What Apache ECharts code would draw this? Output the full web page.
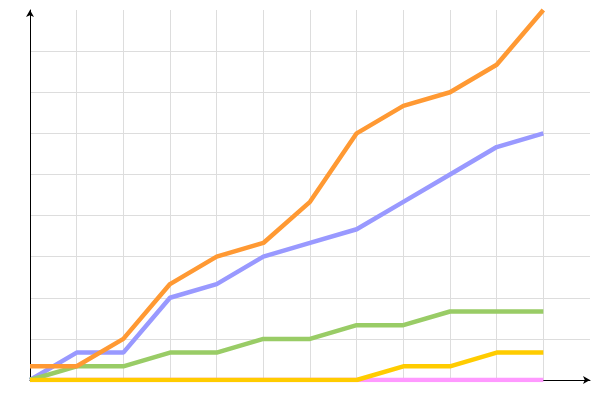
<!DOCTYPE html>
<html>
<head>
<meta charset="utf-8">
<script src="https://cdn.jsdelivr.net/npm/echarts@6/dist/echarts.min.js"></script>
<style>html,body{margin:0;padding:0;background:#fff}#c{width:600px;height:400px}</style>
</head>
<body>
<div id="c"></div>
<script>
const xValues = [0, 1, 2, 3, 4, 5, 6, 7, 8, 9, 10, 11];
const orangeValues = [1, 1, 3, 7, 9, 10, 13, 18, 20, 21, 23, 27];
const blueValues = [0, 2, 2, 6, 7, 9, 10, 11, 13, 15, 17, 18];
const greenValues = [0, 1, 1, 2, 2, 3, 3, 4, 4, 5, 5, 5];
const yellowValues = [0, 0, 0, 0, 0, 0, 0, 0, 1, 1, 2, 2];
const pinkValues = [0, 0, 0, 0, 0, 0, 0, 0, 0, 0, 0, 0];

function pairs(vals) { return xValues.map((x, i) => [x, vals[i]]); }
function mk(vals, color) {
  return { type: 'line', data: pairs(vals), showSymbol: false, symbol: 'none',
    lineStyle: { color: color, width: 4.5 }, itemStyle: { color: color } };
}
const axisCommon = {
  axisLabel: { show: false }, axisTick: { show: false },
  axisLine: { show: true, lineStyle: { color: '#000', width: 1 }, symbol: ['none', 'arrow'], symbolSize: [6, 7] },
  splitLine: { show: true, showMaxLine: false, lineStyle: { color: '#dddddd', width: 1 } }
};
const chart = echarts.init(document.getElementById('c'));
chart.setOption({
  animation: false,
  grid: { left: 30, right: 10, top: 10, bottom: 20 },
  xAxis: Object.assign({ type: 'value', min: 0, max: 12, interval: 1 }, axisCommon),
  yAxis: Object.assign({ type: 'value', min: 0, max: 27, interval: 3 }, axisCommon),
  series: [
    mk(pinkValues, '#ff99ff'),
    mk(blueValues, '#9999ff'),
    mk(greenValues, '#99cc66'),
    mk(orangeValues, '#ff9933'),
    mk(yellowValues, '#ffcc00')
  ]
});
</script>
</body>
</html>
